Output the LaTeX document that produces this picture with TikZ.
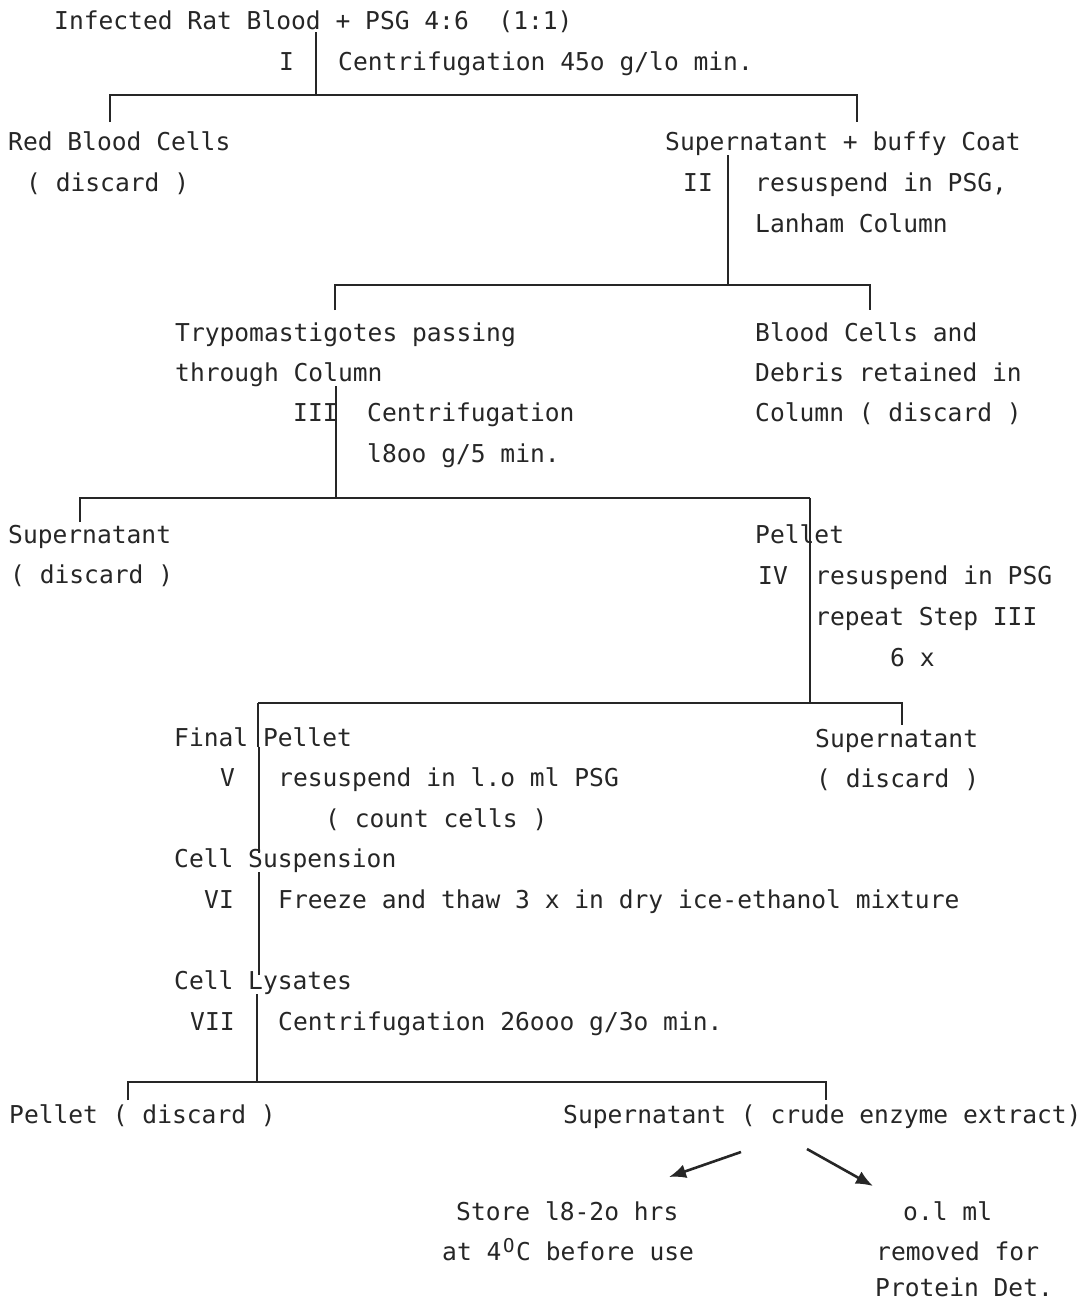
\documentclass[tikz,border=0pt]{standalone}
\usepackage{fontspec}
\setmainfont{DejaVu Sans Mono}
\usetikzlibrary{arrows.meta}
\newcommand\diagfont{\fontsize{24.6pt}{30pt}\selectfont}
\tikzset{
  txt/.style={anchor=base west, inner sep=0pt, font=\diagfont, text=black!85},
  stem/.style={line width=1.5pt, draw=black!85},
  bar/.style={line width=2.2pt, draw=black!85, line join=miter},
  tick/.style={line width=1.5pt, draw=black!85},
  arr/.style={line width=2.6pt, draw=black!85, -{Latex[length=17pt,width=14pt]}}
}
\begin{document}
\begin{tikzpicture}[x=1pt,y=-1pt]
\useasboundingbox[fill=white] (0,0) rectangle (1085,1304);

% ---- step I
\node[txt] (start) at (54,29) {Infected Rat Blood + PSG 4:6\ \ (1:1)};
\node[txt] (rI) at (279,70) {I};
\node[txt] (tI) at (338,70) {Centrifugation 45o g/lo min.};
\coordinate (b1m) at (316,95);
\coordinate (b1l) at (110,95);
\coordinate (b1r) at (857,95);
\coordinate (b1lt) at (110,122);
\coordinate (b1rt) at (857,122);
\draw[stem] (start.south -| b1m) -- (b1m);
\draw[bar] (b1lt) -- (b1l) -- (b1r) -- (b1rt);

% ---- row after I
\node[txt] (rbc) at (8,150) {Red Blood Cells};
\node[txt] (rbcd) at (26,191) {( discard )};
\node[txt] (sbc) at (665,150) {Supernatant + buffy Coat};
\node[txt] (rII) at (683,191) {II};
\node[txt] (tII) at (755,191) {resuspend in PSG,};
\node[txt] (tIIb) at (755,232) {Lanham Column};
\coordinate (b2m) at (728,285);
\coordinate (b2l) at (335,285);
\coordinate (b2r) at (870,285);
\coordinate (b2lt) at (335,310);
\coordinate (b2rt) at (870,310);
\draw[stem] (sbc.south -| b2m) -- (b2m);
\draw[bar] (b2lt) -- (b2l) -- (b2r) -- (b2rt);

% ---- row after II
\node[txt] (tryp) at (175,341) {Trypomastigotes passing};
\node[txt] (trypb) at (175,381) {through Column};
\node[txt] (bcd) at (755,341) {Blood Cells and};
\node[txt] (bcdb) at (755,381) {Debris retained in};
\node[txt] (bcdc) at (755,421) {Column ( discard )};
\node[txt] (rIII) at (293,421) {III};
\node[txt] (tIII) at (367,421) {Centrifugation};
\node[txt] (tIIIb) at (367,462) {l8oo g/5 min.};
\coordinate (b3m) at (336,498);
\coordinate (b3l) at (80,498);
\coordinate (b3r) at (810,498);
\coordinate (b3lt) at (80,522);
\draw[stem] (trypb.south -| b3m) -- (b3m);
\draw[bar] (b3lt) -- (b3l) -- (b3r);

% ---- row after III
\node[txt] (sup3) at (8,543) {Supernatant};
\node[txt] (sup3d) at (10,583) {( discard )};
\node[txt] (pel) at (755,543) {Pellet};
\node[txt] (rIV) at (758,584) {IV};
\node[txt] (tIV) at (815,584) {resuspend in PSG};
\node[txt] (tIVb) at (815,625) {repeat Step III};
\node[txt] (tIVc) at (890,666) {6 x};
\coordinate (b4m) at (810,703);
\coordinate (b4l) at (258,703);
\coordinate (b4r) at (902,703);
\coordinate (b4rt) at (902,725);
\draw[stem] (pel.south -| b4m) -- (b3r);
\draw[stem] (b3r) -- (b4m);
\draw[bar] (b4l) -- (b4r) -- (b4rt);

% ---- row after IV
\node[txt] (fp) at (174,746) {Final Pellet};
\node[txt] (sup4) at (815,747) {Supernatant};
\node[txt] (sup4d) at (816,787) {( discard )};
\node[txt] (rV) at (220,786) {V};
\node[txt] (tV) at (278,786) {resuspend in l.o ml PSG};
\node[txt] (tVb) at (325,827) {( count cells )};
\node[txt] (cs) at (174,867) {Cell Suspension};
\coordinate (sV) at (259,0);
\draw[stem] (b4l) -- (fp.south -| b4l);
\draw[stem] (fp.south -| sV) -- ([yshift=-5pt]cs.north -| sV);

% ---- step VI
\node[txt] (rVI) at (204,908) {VI};
\node[txt] (tVI) at (278,908) {Freeze and thaw 3 x in dry ice-ethanol mixture};
\node[txt] (cl) at (174,989) {Cell Lysates};
\draw[stem] (cs.south -| sV) -- ([yshift=-5pt]cl.north -| sV);

% ---- step VII
\node[txt] (rVII) at (190,1030) {VII};
\node[txt] (tVII) at (278,1030) {Centrifugation 26ooo g/3o min.};
\coordinate (b5m) at (257,1082);
\coordinate (b5l) at (128,1082);
\coordinate (b5r) at (826,1082);
\coordinate (b5lt) at (128,1100);
\coordinate (b5rt) at (826,1100);
\draw[stem] (cl.south -| b5m) -- (b5m);
\draw[bar] (b5lt) -- (b5l) -- (b5r) -- (b5rt);

% ---- final row
\node[txt] (pel5) at (9,1123) {Pellet ( discard )};
\node[txt] (sup5) at (563,1123) {Supernatant ( crude enzyme extract)};
\node[txt] (store) at (456,1220) {Store l8-2o hrs};
\node[txt] (storeb) at (442,1260) {at 4\makebox[14.8pt]{\raisebox{8pt}{\fontsize{19pt}{19pt}\selectfont O}}C before use};
\node[txt] (prot) at (903,1220) {o.l ml};
\node[txt] (protb) at (876,1260) {removed for};
\node[txt] (protc) at (875,1296) {Protein Det.};
\coordinate (a1s) at (741,1152);
\coordinate (a1e) at (669,1177);
\coordinate (a2s) at (807,1149);
\coordinate (a2e) at (873,1186);
\draw[arr] (a1s) -- (a1e);
\draw[arr] (a2s) -- (a2e);
\end{tikzpicture}
\end{document}
